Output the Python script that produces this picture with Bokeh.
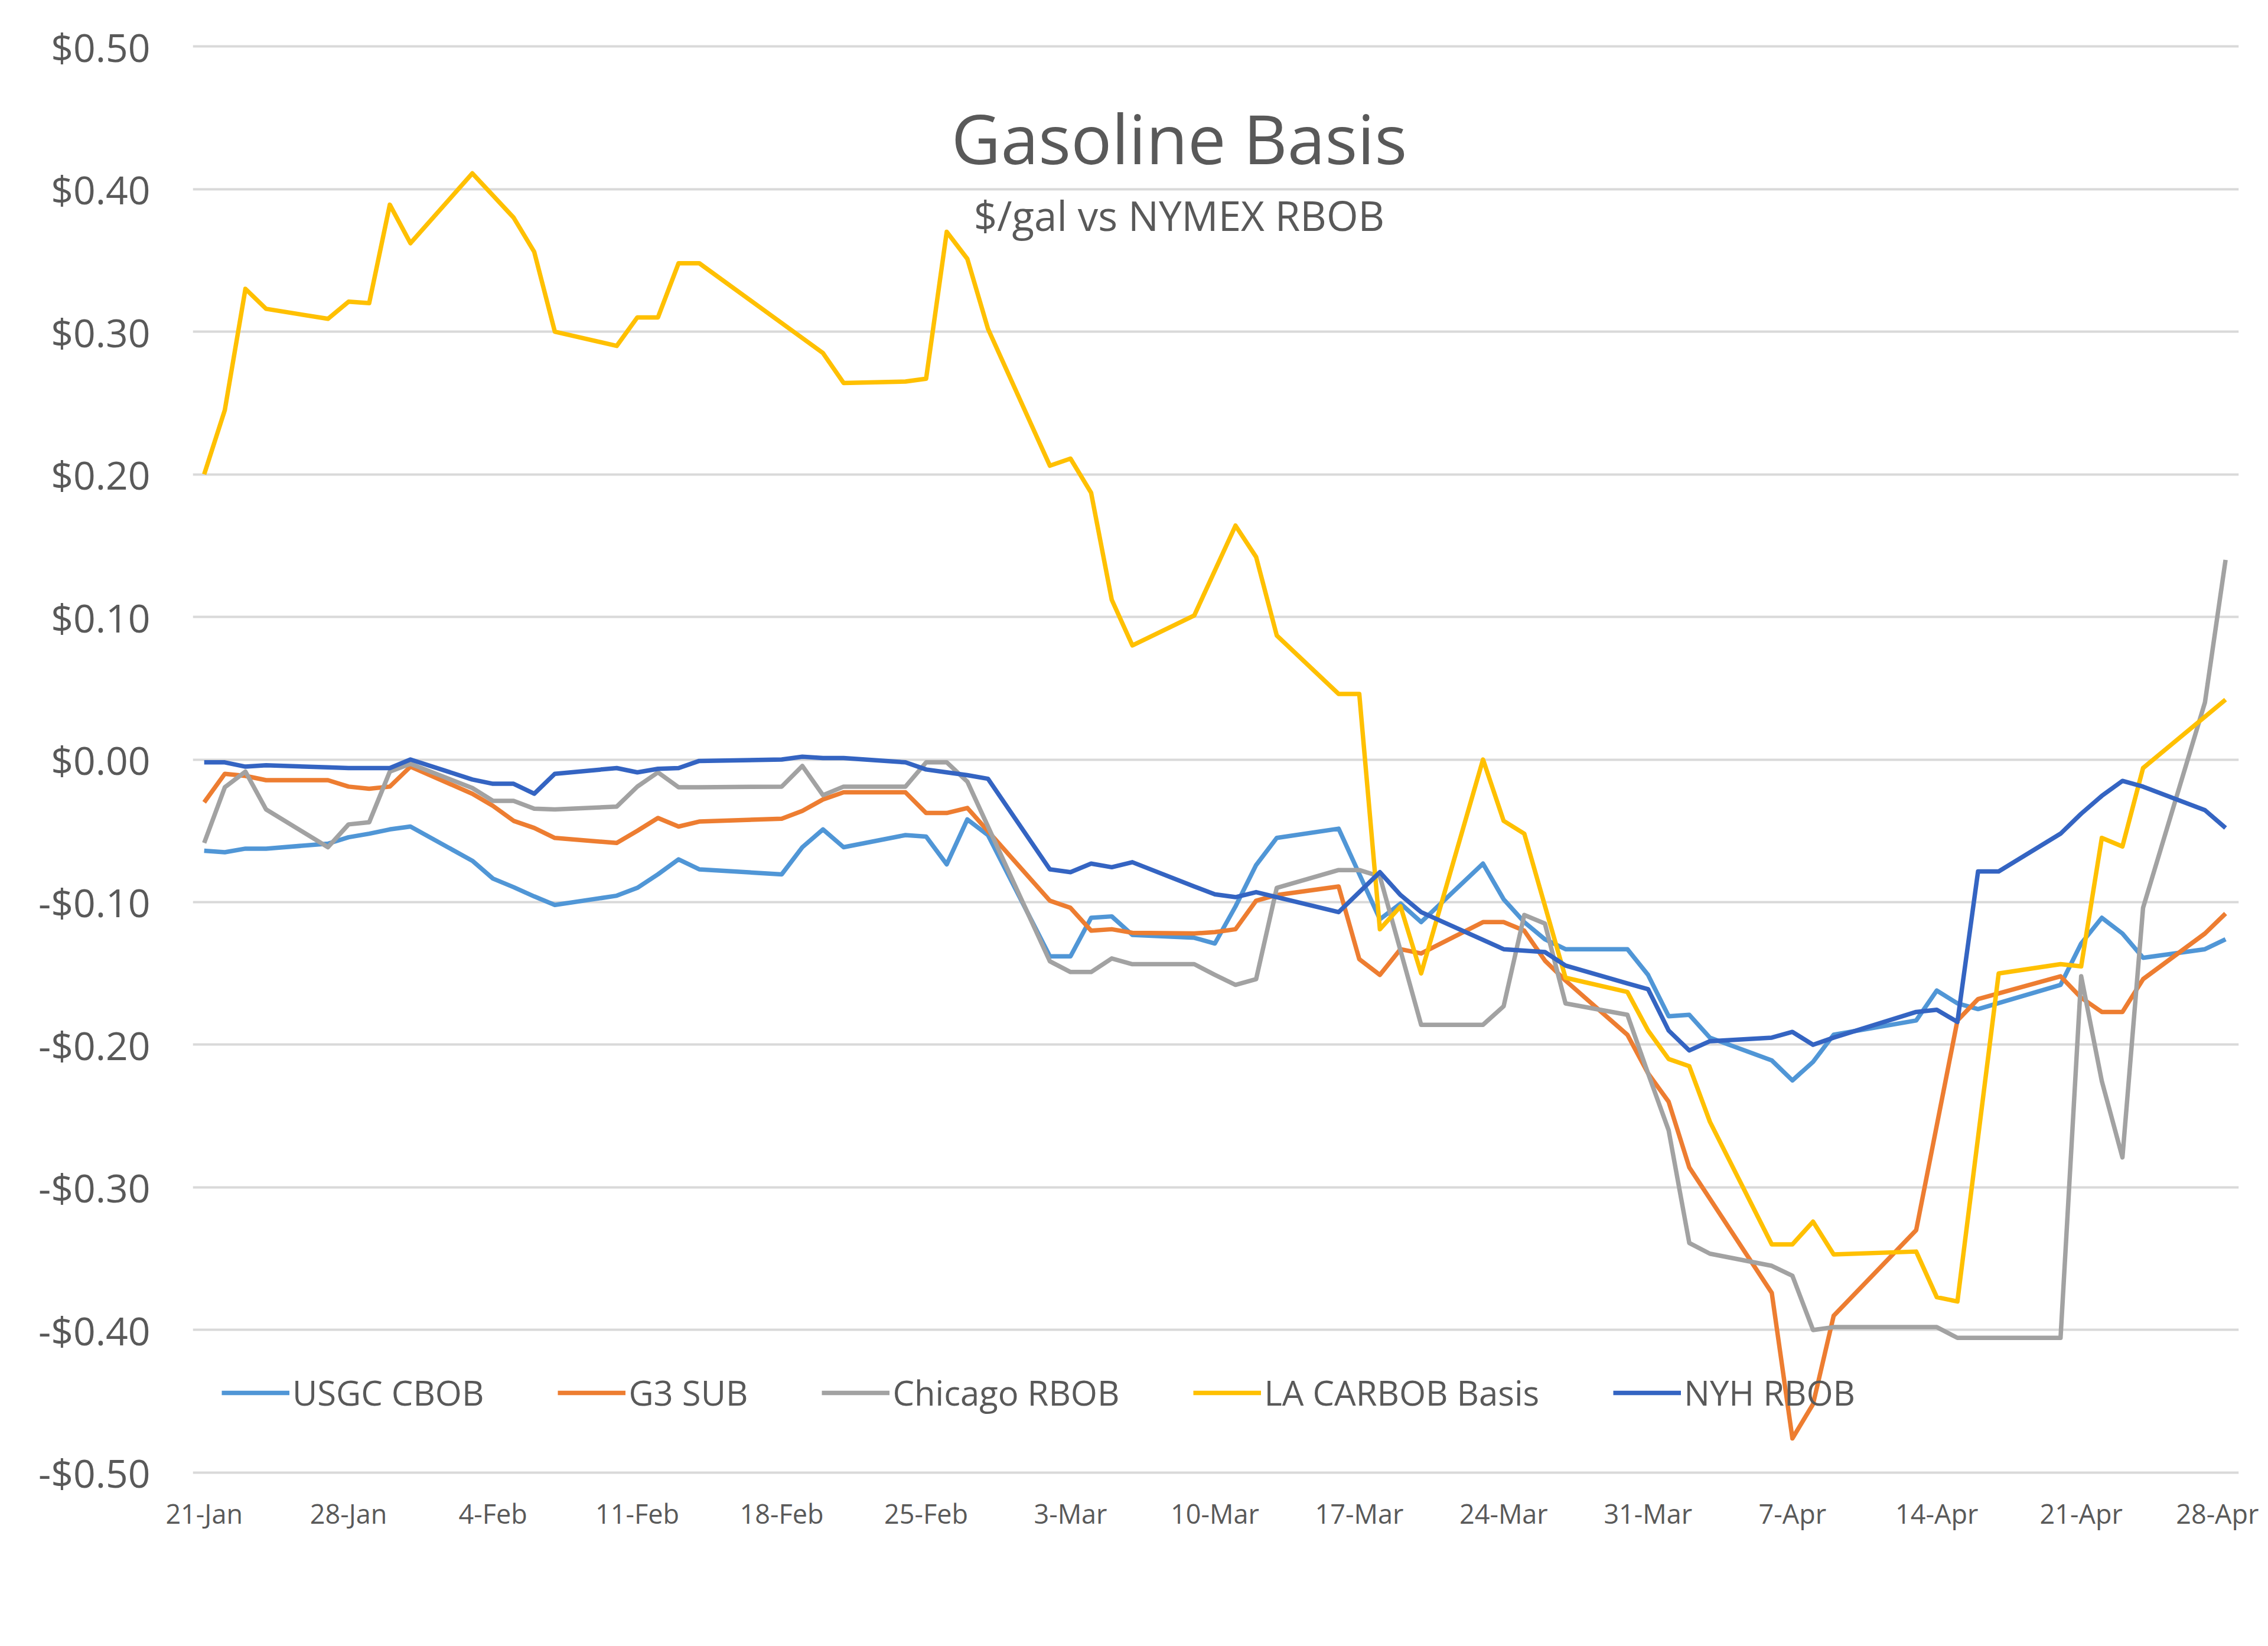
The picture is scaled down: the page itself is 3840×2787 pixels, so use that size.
import pandas as pd
from bokeh.plotting import figure
from bokeh.models import Legend, LegendItem, FixedTicker, Label, NumeralTickFormatter, Range1d, ColumnDataSource
from bokeh.embed import file_html
from bokeh.resources import INLINE

YEAR = "2020"
START = "01-21"

tick_dates = ["01-21", "01-28", "02-04", "02-11", "02-18", "02-25", "03-03", "03-10",
              "03-17", "03-24", "03-31", "04-07", "04-14", "04-21", "04-28"]
tick_labels = ["21-Jan", "28-Jan", "4-Feb", "11-Feb", "18-Feb", "25-Feb", "3-Mar", "10-Mar",
               "17-Mar", "24-Mar", "31-Mar", "7-Apr", "14-Apr", "21-Apr", "28-Apr"]
y_ticks = [-0.5, -0.4, -0.3, -0.2, -0.1, 0.0, 0.1, 0.2, 0.3, 0.4, 0.5]

usgc_dates = ["01-21", "01-22", "01-23", "01-24", "01-27", "01-28", "01-29", "01-30", "01-31",
              "02-03", "02-04", "02-05", "02-06", "02-07", "02-10", "02-11", "02-12", "02-13", "02-14",
              "02-18", "02-19", "02-20", "02-21", "02-24", "02-25", "02-26", "02-27", "02-28",
              "03-02", "03-03", "03-04", "03-05", "03-06", "03-09", "03-10", "03-11", "03-12", "03-13",
              "03-16", "03-18", "03-19", "03-20", "03-23", "03-24", "03-25", "03-26", "03-27",
              "03-30", "03-31", "04-01", "04-02", "04-03", "04-06", "04-07", "04-08", "04-09",
              "04-13", "04-14", "04-15", "04-16", "04-20", "04-21", "04-22", "04-23", "04-24",
              "04-27", "04-28"]
usgc_vals = [-0.064, -0.065, -0.0625, -0.0625, -0.059, -0.0545, -0.052, -0.049, -0.047,
             -0.071, -0.0835, -0.0895, -0.096, -0.102, -0.0955, -0.090, -0.0805, -0.070, -0.077,
             -0.0805, -0.0615, -0.049, -0.0615, -0.053, -0.054, -0.0735, -0.042, -0.053,
             -0.138, -0.138, -0.111, -0.110, -0.123, -0.125, -0.129, -0.103, -0.074, -0.055,
             -0.0485, -0.112, -0.101, -0.114, -0.073, -0.098, -0.114, -0.126, -0.133,
             -0.133, -0.151, -0.180, -0.179, -0.195, -0.211, -0.225, -0.212, -0.193,
             -0.183, -0.162, -0.171, -0.175, -0.158, -0.129, -0.111, -0.122, -0.139,
             -0.133, -0.126]

g3_dates = ["01-21", "01-22", "01-23", "01-24", "01-27", "01-28", "01-29", "01-30", "01-31",
            "02-03", "02-04", "02-05", "02-06", "02-07", "02-10", "02-11", "02-12", "02-13", "02-14",
            "02-18", "02-19", "02-20", "02-21", "02-24", "02-25", "02-26", "02-27",
            "03-02", "03-03", "03-04", "03-05", "03-06", "03-09", "03-10", "03-11", "03-12", "03-13",
            "03-16", "03-17", "03-18", "03-19", "03-20", "03-23", "03-24", "03-25", "03-26", "03-27",
            "03-30", "03-31", "04-01", "04-02", "04-06", "04-07", "04-08", "04-09",
            "04-13", "04-15", "04-16", "04-20", "04-21", "04-22", "04-23", "04-24",
            "04-27", "04-28"]
g3_vals = [-0.030, -0.010, -0.0115, -0.0145, -0.0145, -0.019, -0.0205, -0.019, -0.005,
           -0.024, -0.0325, -0.043, -0.048, -0.055, -0.0585, -0.050, -0.041, -0.047, -0.0435,
           -0.0415, -0.036, -0.028, -0.023, -0.023, -0.0375, -0.0375, -0.034,
           -0.099, -0.104, -0.120, -0.119, -0.1215, -0.122, -0.121, -0.119, -0.099, -0.095,
           -0.089, -0.140, -0.151, -0.133, -0.136, -0.114, -0.114, -0.120, -0.141, -0.155,
           -0.193, -0.220, -0.240, -0.286, -0.374, -0.476, -0.452, -0.390,
           -0.330, -0.183, -0.168, -0.152, -0.167, -0.177, -0.177, -0.154,
           -0.122, -0.108]

chi_dates = ["01-21", "01-22", "01-23", "01-24", "01-27", "01-28", "01-29", "01-30", "01-31",
             "02-03", "02-04", "02-05", "02-06", "02-07", "02-10", "02-11", "02-12", "02-13", "02-14",
             "02-18", "02-19", "02-20", "02-21", "02-24", "02-25", "02-26", "02-27",
             "03-02", "03-03", "03-04", "03-05", "03-06", "03-09", "03-10", "03-11", "03-12", "03-13",
             "03-16", "03-17", "03-18", "03-20", "03-23", "03-24", "03-25", "03-26", "03-27",
             "03-30", "03-31", "04-01", "04-02", "04-03", "04-06", "04-07", "04-08", "04-09",
             "04-14", "04-15", "04-20", "04-21", "04-22", "04-23", "04-24", "04-27", "04-28"]
chi_vals = [-0.0585, -0.0195, -0.0085, -0.035, -0.0615, -0.0455, -0.044, -0.0085, -0.003,
            -0.020, -0.029, -0.029, -0.0345, -0.035, -0.033, -0.019, -0.009, -0.0195, -0.0195,
            -0.019, -0.0045, -0.025, -0.019, -0.019, -0.002, -0.002, -0.0155,
            -0.1415, -0.149, -0.149, -0.1395, -0.1435, -0.1435, -0.151, -0.158, -0.154, -0.090,
            -0.0775, -0.0775, -0.082, -0.186, -0.186, -0.173, -0.109, -0.115, -0.171,
            -0.179, -0.220, -0.260, -0.339, -0.3465, -0.355, -0.362, -0.400, -0.398,
            -0.398, -0.4055, -0.4055, -0.152, -0.2255, -0.279, -0.104, 0.040, 0.140]

la_dates = ["01-21", "01-22", "01-23", "01-24", "01-27", "01-28", "01-29", "01-30", "01-31",
            "02-03", "02-05", "02-06", "02-07", "02-10", "02-11", "02-12", "02-13", "02-14",
            "02-20", "02-21", "02-24", "02-25", "02-26", "02-27", "02-28",
            "03-02", "03-03", "03-04", "03-05", "03-06", "03-09", "03-11", "03-12", "03-13",
            "03-16", "03-17", "03-18", "03-19", "03-20", "03-23", "03-24", "03-25", "03-27",
            "03-30", "03-31", "04-01", "04-02", "04-03", "04-06", "04-07", "04-08", "04-09",
            "04-13", "04-14", "04-15", "04-17", "04-20", "04-21", "04-22", "04-23", "04-24",
            "04-28"]
la_vals = [0.200, 0.245, 0.330, 0.316, 0.309, 0.321, 0.320, 0.389, 0.362,
           0.411, 0.380, 0.356, 0.300, 0.290, 0.310, 0.310, 0.348, 0.348,
           0.285, 0.264, 0.265, 0.267, 0.370, 0.351, 0.302,
           0.206, 0.211, 0.187, 0.112, 0.080, 0.101, 0.164, 0.142, 0.087,
           0.046, 0.046, -0.119, -0.103, -0.150, 0.000, -0.043, -0.052, -0.153,
           -0.163, -0.190, -0.210, -0.215, -0.254, -0.340, -0.340, -0.324, -0.347,
           -0.345, -0.377, -0.380, -0.150, -0.1435, -0.145, -0.055, -0.061, -0.006,
           0.042]

nyh_dates = ["01-21", "01-22", "01-23", "01-24", "01-27", "01-28", "01-29", "01-30", "01-31",
             "02-03", "02-04", "02-05", "02-06", "02-07", "02-10", "02-11", "02-12", "02-13", "02-14",
             "02-18", "02-19", "02-20", "02-21", "02-24", "02-25", "02-26", "02-27", "02-28",
             "03-02", "03-03", "03-04", "03-05", "03-06", "03-09", "03-10", "03-11", "03-12",
             "03-16", "03-18", "03-19", "03-20", "03-24", "03-26", "03-27",
             "03-30", "03-31", "04-01", "04-02", "04-03", "04-06", "04-07", "04-08", "04-09",
             "04-13", "04-14", "04-15", "04-16", "04-17", "04-20", "04-21", "04-22", "04-23", "04-24",
             "04-27", "04-28"]
nyh_vals = [-0.002, -0.002, -0.005, -0.004, -0.0055, -0.006, -0.006, -0.006, 0.000,
            -0.014, -0.017, -0.017, -0.024, -0.010, -0.006, -0.009, -0.0065, -0.006, -0.001,
            0.000, 0.002, 0.001, 0.001, -0.002, -0.007, -0.009, -0.011, -0.0135,
            -0.077, -0.079, -0.073, -0.0755, -0.072, -0.089, -0.0945, -0.0965, -0.093,
            -0.107, -0.079, -0.095, -0.107, -0.133, -0.135, -0.1445,
            -0.157, -0.161, -0.190, -0.204, -0.1975, -0.195, -0.191, -0.200, -0.195,
            -0.177, -0.1755, -0.184, -0.0785, -0.0785, -0.052, -0.038, -0.0255, -0.015, -0.019,
            -0.0355, -0.048]

series = [
    ("USGC CBOB", usgc_dates, usgc_vals, "#5096D6"),
    ("G3 SUB", g3_dates, g3_vals, "#ED7D31"),
    ("Chicago RBOB", chi_dates, chi_vals, "#A2A2A2"),
    ("LA CARBOB Basis", la_dates, la_vals, "#FFC000"),
    ("NYH RBOB", nyh_dates, nyh_vals, "#3464C2"),
]

start = pd.Timestamp(YEAR + "-" + START)


def day_offsets(dates):
    return [int((pd.Timestamp(YEAR + "-" + d) - start).days) for d in dates]


TEXT = "#595959"
FONT = "Open Sans"

p = figure(width=3824, height=2771,
           x_range=Range1d(-0.55, 98.64), y_range=Range1d(-0.505, 0.505),
           output_backend="svg", toolbar_location=None,
           min_border_left=326, min_border_right=34, min_border_top=66, min_border_bottom=266)
p.outline_line_color = None
p.background_fill_color = "white"
p.border_fill_color = "white"

p.xgrid.visible = False
p.ygrid.grid_line_color = "#D9D9D9"
p.ygrid.grid_line_width = 4

tick_x = day_offsets(tick_dates)
p.xaxis.ticker = FixedTicker(ticks=tick_x)
p.xaxis.major_label_overrides = {float(t): lab for t, lab in zip(tick_x, tick_labels)}
p.yaxis.ticker = FixedTicker(ticks=y_ticks)
p.yaxis.formatter = NumeralTickFormatter(format="$0.00")

for ax in (p.xaxis, p.yaxis):
    ax.axis_line_color = None
    ax.major_tick_line_color = None
    ax.minor_tick_line_color = None
    ax.major_tick_out = 0
    ax.major_tick_in = 0
    ax.minor_tick_out = 0
    ax.major_label_text_color = TEXT
    ax.major_label_text_font = FONT
p.yaxis.major_label_text_font_size = "66px"
p.yaxis.major_label_standoff = 72
p.xaxis.major_label_text_font_size = "45px"
p.xaxis.major_label_standoff = 26

items = []
for name, dates, vals, color in series:
    src = ColumnDataSource(dict(x=day_offsets(dates), y=vals))
    r = p.line("x", "y", source=src, line_color=color, line_width=7.5, line_join="round")
    items.append(LegendItem(label=name, renderers=[r]))

legend = Legend(items=items, orientation="horizontal", location=(49, 108),
                background_fill_alpha=0, border_line_color=None,
                label_text_font=FONT, label_text_font_size="58px", label_text_color=TEXT,
                glyph_width=115, glyph_height=40, label_standoff=5, spacing=125,
                padding=0, margin=0)
p.add_layout(legend)

title = Label(x=47.27, y=0.436, text="Gasoline Basis", text_align="center", text_baseline="middle",
              text_font=FONT, text_font_size="115px", text_color=TEXT)
subtitle = Label(x=47.27, y=0.382, text="$/gal vs NYMEX RBOB", text_align="center",
                 text_baseline="middle", text_font=FONT, text_font_size="69px", text_color=TEXT)
p.add_layout(title)
p.add_layout(subtitle)

open("out.html", "w").write(file_html(p, INLINE))
